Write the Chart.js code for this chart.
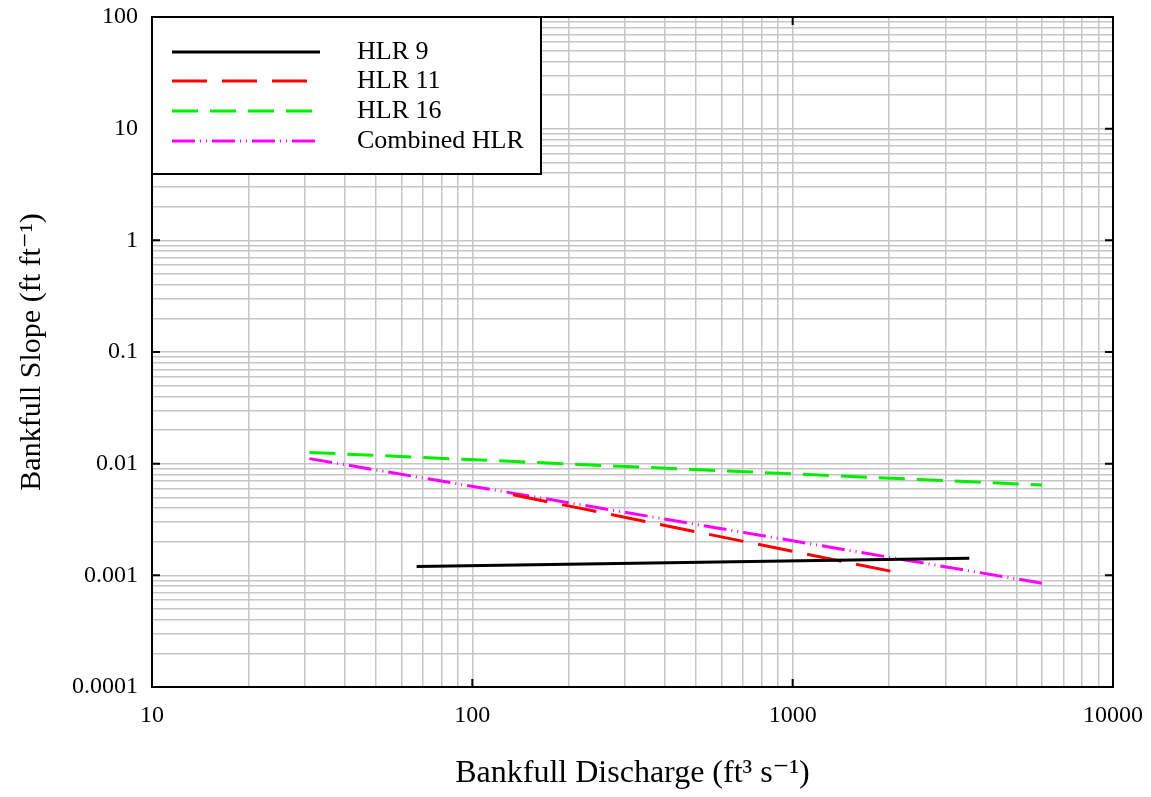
<!DOCTYPE html>
<html>
<head>
<meta charset="utf-8">
<script src="https://cdn.jsdelivr.net/npm/chart.js@4/dist/chart.umd.min.js"></script>
<style>
  html,body{margin:0;padding:0;background:#fff;}
  #wrap{width:1151px;height:797px;}
</style>
</head>
<body>
<div id="wrap"><canvas id="chart" width="1151" height="797"></canvas></div>
<script>
// Bankfull slope vs discharge regional curves (log-log, straight power-law lines)
const seriesNames = ['HLR 9', 'HLR 11', 'HLR 16', 'Combined HLR'];

// endpoints: discharge (ft3/s) and slope (ft/ft)
const hlr9Q = [67, 3560];
const hlr9S = [0.00120, 0.00142];
const hlr11Q = [134, 2055];
const hlr11S = [0.00527, 0.00108];
const hlr16Q = [31, 6000];
const hlr16S = [0.0126, 0.00645];
const combQ = [31, 6000];
const combS = [0.0111, 0.00085];

const xDecades = [10, 100, 1000, 10000];
const yDecades = [0.0001, 0.001, 0.01, 0.1, 1, 10, 100];

const FONT = "'Liberation Serif', 'DejaVu Serif', serif";
const GRID = '#c6c6c6';

function pts(xs, ys){ return xs.map((x,i)=>({x, y: ys[i]})); }

// every 1..9 multiple inside the decades, for the grid
function logGrid(decades){
  const out = [];
  decades.forEach((d,i)=>{
    if(i === decades.length-1){ out.push(d); return; }
    for(let m=1;m<10;m++) out.push(+(d*m).toPrecision(3));
  });
  return out;
}

function isDecade(v, decades){ return decades.some(d=>Math.abs(v/d-1)<1e-6); }

const styles = [
  {color:'#000000', dash:[]},
  {color:'#ff0000', dash:[35,15]},
  {color:'#00ee00', dash:[26,12]},
  {color:'#ff00ff', dash:[23,5,1,5,1,5]}
];

// frame, inward major ticks and the boxed legend
const framePlugin = {
  id:'frame',
  afterDraw(chart){
    const {ctx, chartArea:a, scales} = chart;
    ctx.save();
    ctx.strokeStyle = '#000';
    ctx.lineWidth = 2;
    ctx.strokeRect(a.left, a.top, a.right-a.left, a.bottom-a.top);
    const tl = 8;
    ctx.beginPath();
    xDecades.forEach(v=>{
      const px = scales.x.getPixelForValue(v);
      ctx.moveTo(px, a.bottom); ctx.lineTo(px, a.bottom-tl);
      ctx.moveTo(px, a.top); ctx.lineTo(px, a.top+tl);
    });
    yDecades.forEach(v=>{
      const py = scales.y.getPixelForValue(v);
      ctx.moveTo(a.left, py); ctx.lineTo(a.left+tl, py);
      ctx.moveTo(a.right, py); ctx.lineTo(a.right-tl, py);
    });
    ctx.stroke();

    // legend box in the top left corner
    const lx = a.left, ly = a.top, lw = 389, lh = 157;
    ctx.fillStyle = '#fff';
    ctx.fillRect(lx, ly, lw, lh);
    ctx.strokeRect(lx, ly, lw, lh);
    const rows = [35, 64, 94, 124];
    ctx.font = '26px ' + FONT;
    ctx.textBaseline = 'middle';
    ctx.textAlign = 'left';
    seriesNames.forEach((name,i)=>{
      const y = ly + rows[i];
      ctx.beginPath();
      ctx.setLineDash(styles[i].dash);
      ctx.strokeStyle = styles[i].color;
      ctx.lineWidth = 3;
      ctx.moveTo(lx+20, y); ctx.lineTo(lx+168, y);
      ctx.stroke();
      ctx.setLineDash([]);
      ctx.fillStyle = '#000';
      ctx.fillText(name, lx+205, y);
    });
    ctx.restore();
  }
};

const datasets = [
  pts(hlr9Q, hlr9S), pts(hlr11Q, hlr11S), pts(hlr16Q, hlr16S), pts(combQ, combS)
].map((data,i)=>({
  label: seriesNames[i],
  data,
  borderColor: styles[i].color,
  backgroundColor: styles[i].color,
  borderDash: styles[i].dash,
  borderWidth: 3,
  pointRadius: 0,
  fill: false,
  tension: 0
}));

new Chart(document.getElementById('chart'), {
  type:'line',
  data:{datasets},
  plugins:[framePlugin],
  options:{
    responsive:false,
    animation:false,
    layout:{padding:{top:17, right:38, left:0, bottom:0}},
    plugins:{legend:{display:false}, tooltip:{enabled:false}},
    scales:{
      x:{
        type:'logarithmic', min:10, max:10000,
        afterBuildTicks: s=>{ s.ticks = logGrid(xDecades).map(v=>({value:v})); },
        afterFit: s=>{ s.height = 110; s.paddingLeft = 0; s.paddingRight = 0; },
        border:{display:false},
        grid:{color:GRID, lineWidth:1.5, drawTicks:false},
        ticks:{
          autoSkip:false, maxRotation:0, padding:14, color:'#000',
          font:{family:FONT, size:24},
          callback: v=> isDecade(v, xDecades) ? String(v) : ''
        },
        title:{display:true, text:'Bankfull Discharge (ft³ s⁻¹)', color:'#000',
          font:{family:FONT, size:32}, padding:{top:0, bottom:4}}
      },
      y:{
        type:'logarithmic', min:0.0001, max:100,
        afterBuildTicks: s=>{ s.ticks = logGrid(yDecades).map(v=>({value:v})); },
        afterFit: s=>{ s.width = 152; s.paddingTop = 0; s.paddingBottom = 0; },
        border:{display:false},
        grid:{color:GRID, lineWidth:1.5, drawTicks:false},
        ticks:{
          autoSkip:false, padding:14, color:'#000',
          font:{family:FONT, size:24},
          callback: v=> isDecade(v, yDecades) ? String(v) : ''
        },
        title:{display:true, text:'Bankfull Slope (ft ft⁻¹)', color:'#000',
          font:{family:FONT, size:30}, padding:{top:14, bottom:0}}
      }
    }
  }
});
</script>
</body>
</html>
